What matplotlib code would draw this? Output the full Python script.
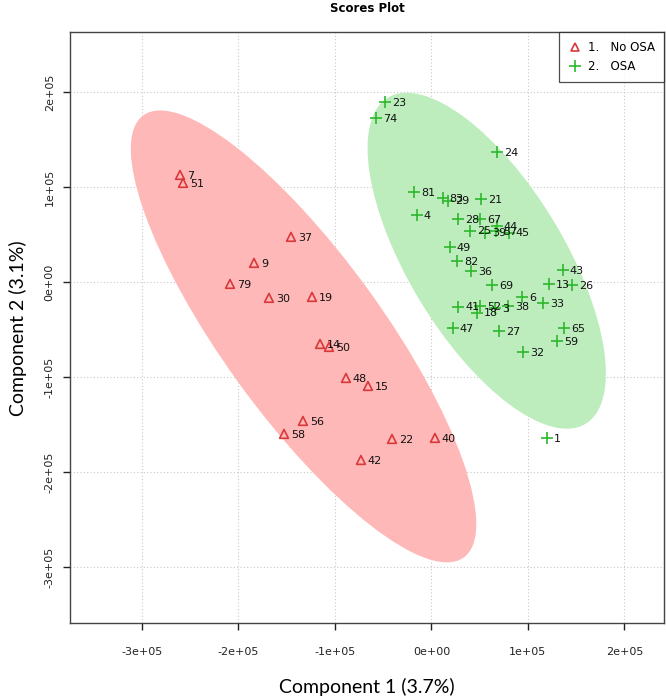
import numpy as np
import matplotlib
matplotlib.use("Agg")
import matplotlib.pyplot as plt
from matplotlib.patches import Ellipse
from matplotlib.lines import Line2D

# ---------------- data (units: 1e5) ----------------
no_osa_ids = ["7", "51", "37", "9", "79", "30", "19", "14", "50", "48", "15", "56", "58", "22", "40", "42"]
no_osa_x = [-2.606, -2.575, -1.456, -1.839, -2.088, -1.684, -1.238, -1.155, -1.062, -0.886, -0.658, -1.332, -1.528, -0.409, 0.036, -0.731]
no_osa_y = [1.126, 1.042, 0.474, 0.200, -0.021, -0.168, -0.158, -0.653, -0.684, -1.011, -1.095, -1.463, -1.600, -1.653, -1.642, -1.874]

osa_ids = ["23", "74", "24", "81", "83", "29", "21", "4", "28", "67", "25", "39", "44", "57", "45",
           "49", "82", "36", "43", "69", "13", "26", "6", "33", "41", "52", "18", "3", "38", "47",
           "27", "65", "59", "32", "1"]
osa_x = [-0.482, -0.575, 0.679, -0.181, 0.116, 0.174, 0.513, -0.150, 0.278, 0.503, 0.399, 0.554, 0.676, 0.668, 0.800,
         0.192, 0.264, 0.409, 1.363, 0.627, 1.218, 1.456, 0.938, 1.155, 0.278, 0.503, 0.475, 0.658, 0.796, 0.223,
         0.699, 1.373, 1.301, 0.948, 1.197]
osa_y = [1.895, 1.726, 1.368, 0.947, 0.881, 0.856, 0.874, 0.705, 0.660, 0.663, 0.540, 0.519, 0.589, 0.537, 0.519,
         0.368, 0.221, 0.116, 0.126, -0.032, -0.021, -0.032, -0.158, -0.221, -0.260, -0.253, -0.323, -0.277, -0.253, -0.484,
         -0.516, -0.484, -0.621, -0.737, -1.642]

scale = 1e5
x_ticks = [-3, -2, -1, 0, 1, 2]
y_ticks = [-3, -2, -1, 0, 1, 2]
tick_labels = ["-3e+05", "-2e+05", "-1e+05", "0e+00", "1e+05", "2e+05"]

legend_labels = ["1.   No OSA", "2.   OSA"]
title = "Scores Plot"
xlabel = "Component 1 (3.7%)"
ylabel = "Component 2 (3.1%)"

red_edge = "#D9383A"
green_mark = "#2DB82D"
red_fill = "#FFB8B8"
green_fill = "#BDEDBD"

# ---------------- figure ----------------
fig = plt.figure(figsize=(6.66, 6.99), dpi=100)
ax = fig.add_axes([70 / 666, 1 - 623 / 699, (664 - 70) / 666, (623 - 32) / 699])


def conf_ellipse(xs, ys, color):
    pts = np.column_stack([np.asarray(xs) * scale, np.asarray(ys) * scale])
    mu = pts.mean(axis=0)
    cov = np.cov(pts, rowvar=False)
    vals, vecs = np.linalg.eigh(cov)
    order = vals.argsort()[::-1]
    vals, vecs = vals[order], vecs[:, order]
    k = np.sqrt(5.991)  # 95% chi-square, 2 df
    ang = np.degrees(np.arctan2(vecs[1, 0], vecs[0, 0]))
    e = Ellipse(mu, 2 * k * np.sqrt(vals[0]), 2 * k * np.sqrt(vals[1]), angle=ang,
                facecolor=color, edgecolor="none", zorder=1)
    ax.add_patch(e)


conf_ellipse(no_osa_x, no_osa_y, red_fill)
conf_ellipse(osa_x, osa_y, green_fill)

ax.set_xlim(-3.746 * scale, 2.41 * scale)
ax.set_ylim(-3.59 * scale, 2.63 * scale)

ax.set_xticks([t * scale for t in x_ticks])
ax.set_xticklabels(tick_labels)
ax.set_yticks([t * scale for t in y_ticks])
ax.set_yticklabels(tick_labels, rotation=90, va="center")
ax.tick_params(axis="both", direction="out", length=5, width=1.0, labelsize=8, colors="#222222")
ax.tick_params(axis="y", pad=6)
ax.tick_params(axis="x", pad=12)

ax.grid(True, color="#c8c8c8", linestyle=(0, (1, 2)), linewidth=0.8, zorder=0)
ax.set_axisbelow(True)
for s in ax.spines.values():
    s.set_color("#444444")
    s.set_linewidth(1.0)

ax.scatter(np.asarray(no_osa_x) * scale, np.asarray(no_osa_y) * scale, marker="^", s=40,
           facecolors="none", edgecolors=red_edge, linewidths=1.2, zorder=3)
ax.scatter(np.asarray(osa_x) * scale, np.asarray(osa_y) * scale, marker="+", s=70,
           color=green_mark, linewidths=1.2, zorder=3)

for lab, xv, yv in zip(no_osa_ids, no_osa_x, no_osa_y):
    ax.annotate(lab, (xv * scale, yv * scale), xytext=(5, -0.5), textcoords="offset points",
                ha="left", va="center", fontsize=8, color="#111111", zorder=4)
for lab, xv, yv in zip(osa_ids, osa_x, osa_y):
    ax.annotate(lab, (xv * scale, yv * scale), xytext=(5, -0.5), textcoords="offset points",
                ha="left", va="center", fontsize=8, color="#111111", zorder=4)

handles = [Line2D([], [], marker="^", linestyle="none", markerfacecolor="none",
                  markeredgecolor=red_edge, markersize=6, markeredgewidth=1.2),
           Line2D([], [], marker="+", linestyle="none", color=green_mark, markersize=8,
                  markeredgewidth=1.2)]
leg = ax.legend(handles, legend_labels, loc="upper right", fontsize=8.5, frameon=True, fancybox=False,
                borderaxespad=0, handlelength=1.0, handletextpad=0.6, borderpad=0.8, labelspacing=0.45)
leg.get_frame().set_edgecolor("#222222")
leg.get_frame().set_linewidth(0.9)
leg.set_zorder(5)

fig.text(367 / 666, 1 - 9 / 699, title, ha="center", va="center", fontsize=8.5, fontweight="bold")
fig.text(367 / 666, 1 - 687 / 699, xlabel, ha="center", va="center", fontsize=14, family="Lato")
fig.text(18 / 666, 1 - 328 / 699, ylabel, ha="center", va="center", fontsize=14, family="Lato", rotation=90)

fig.savefig("out.png", dpi=100)
